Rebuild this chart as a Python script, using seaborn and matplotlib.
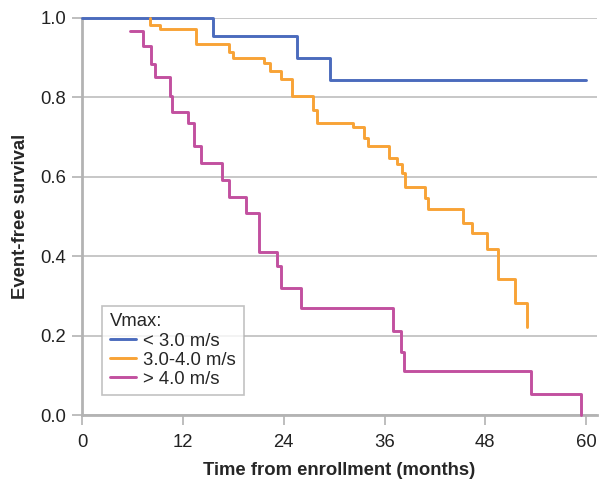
import numpy as np
import pandas as pd
import matplotlib
matplotlib.use("Agg")
import matplotlib.pyplot as plt
import seaborn as sns

# Data
groups = ["< 3.0 m/s", "3.0-4.0 m/s", "> 4.0 m/s"]
colors = ["#4b6bbd", "#f8a336", "#c2509f"]

t_low = [0, 15.6, 25.6, 29.5, 60.0]
s_low = [1.0, 0.955, 0.899, 0.844, 0.844]

t_mid = [8.1, 8.1, 9.3, 13.5, 17.5, 18.0, 21.7, 22.4, 23.7, 25.0, 27.5, 28.0,
         32.3, 33.5, 34.0, 36.5, 37.5, 38.1, 38.4, 40.8, 41.2, 45.4, 46.4,
         48.2, 49.5, 51.5, 53.0, 53.0]
s_mid = [1.0, 0.982, 0.972, 0.934, 0.914, 0.899, 0.887, 0.866, 0.846, 0.804,
         0.768, 0.736, 0.725, 0.698, 0.678, 0.647, 0.632, 0.609, 0.574, 0.547,
         0.519, 0.484, 0.458, 0.418, 0.343, 0.282, 0.222, 0.222]

t_high = [5.7, 7.2, 8.2, 8.7, 10.4, 10.7, 12.6, 13.3, 14.2, 16.7, 17.5, 19.5,
          21.1, 23.2, 23.7, 26.1, 37.0, 38.0, 38.3, 53.5, 59.4, 59.4]
s_high = [0.967, 0.929, 0.884, 0.851, 0.804, 0.763, 0.736, 0.678, 0.635, 0.592,
          0.549, 0.509, 0.411, 0.375, 0.320, 0.270, 0.212, 0.159, 0.111, 0.053,
          0.0, 0.0]

x_ticks = [0, 12, 24, 36, 48, 60]
y_ticks = [0.0, 0.2, 0.4, 0.6, 0.8, 1.0]

frames = []
for g, t, s in zip(groups, [t_low, t_mid, t_high], [s_low, s_mid, s_high]):
    frames.append(pd.DataFrame({"time": t, "surv": s, "group": g,
                                "order": np.arange(len(t))}))
df = pd.concat(frames, ignore_index=True)

sns.set_theme(style="white")
plt.rcParams["font.family"] = ["Liberation Sans", "DejaVu Sans"]

FS = 13.3

fig = plt.figure(figsize=(6, 4.8), dpi=100)
ax = fig.add_axes([0.137, 0.135, 0.858, 0.8275])

for g, c in zip(groups, colors):
    sub = df[df["group"] == g]
    sns.lineplot(data=sub, x="time", y="surv", ax=ax, color=c, lw=2.1,
                 drawstyle="steps-post", estimator=None, sort=False,
                 label=g, clip_on=False, zorder=3)

ax.set_xlim(0, 61.3)
ax.set_ylim(0, 1.0)
ax.set_xticks(x_ticks)
ax.set_yticks(y_ticks)
ax.set_yticklabels([f"{v:.1f}" for v in y_ticks])
ax.yaxis.grid(True, color="#bdbdbd", lw=1.2)
ax.xaxis.grid(False)
for side in ["top", "right"]:
    ax.spines[side].set_visible(False)
for side in ["left", "bottom"]:
    ax.spines[side].set_color("#b3b3b3")
    ax.spines[side].set_linewidth(2)
ax.tick_params(axis="both", which="both", length=7.5, width=1.2, color="#b3b3b3",
               labelsize=FS, labelcolor="#222222", direction="out")
ax.tick_params(axis="x", bottom=True, pad=6)
ax.tick_params(axis="y", left=True, pad=4)

ax.set_xlabel("Time from enrollment (months)", fontsize=FS, fontweight="bold",
              labelpad=8)
ax.set_ylabel("Event-free survival", fontsize=FS, fontweight="bold", labelpad=8)

leg = ax.legend(title="Vmax:", loc="lower left", bbox_to_anchor=(0.039, 0.05),
                borderaxespad=0, fontsize=FS, title_fontsize=FS,
                frameon=True, fancybox=False, handlelength=1.45,
                handletextpad=0.38, labelspacing=0.12, borderpad=0.4)
leg._legend_box.align = "left"
leg.get_frame().set_edgecolor("#b3b3b3")
leg.get_frame().set_linewidth(1.2)

fig.savefig("out.png", dpi=100)
